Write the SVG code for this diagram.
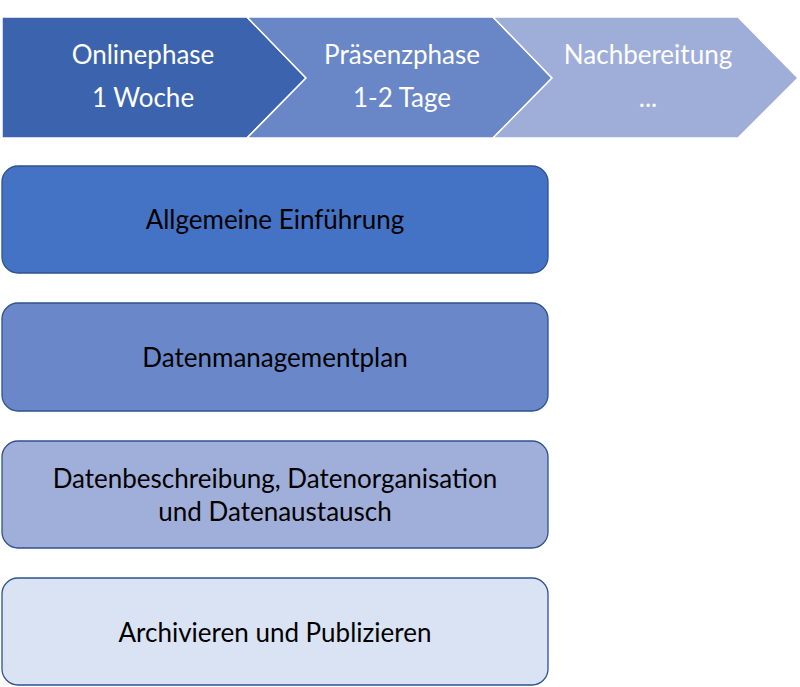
<svg xmlns="http://www.w3.org/2000/svg" width="800" height="687" viewBox="0 0 800 687">
<style>
.ch{stroke:#ffffff;stroke-width:1.5}
.ct{font-family:Lato,"Open Sans",sans-serif;font-size:26px;fill:#ffffff;text-anchor:middle}
.bx{stroke:#2F528F;stroke-width:1.3}
.bt{font-family:Lato,"Open Sans",sans-serif;font-size:26px;fill:#000000;text-anchor:middle}
</style>
<rect width="800" height="687" fill="#ffffff"/>
<g id="chevron1">
<polygon class="ch" points="2,17 247,17 306,78 247,138 2,138" fill="#3C64AE"/>
<text class="ct" x="143" y="64">Onlinephase</text>
<text class="ct" x="143" y="107">1 Woche</text>
</g>
<g id="chevron2">
<polygon class="ch" points="247,17 493,17 552,78 493,138 247,138 306,78" fill="#6986C6"/>
<text class="ct" x="402" y="64">Präsenzphase</text>
<text class="ct" x="402" y="107">1-2 Tage</text>
</g>
<g id="chevron3">
<polygon class="ch" points="493,17 738,17 798,78 738,138 493,138 552,78" fill="#9FAED9"/>
<text class="ct" x="648" y="64">Nachbereitung</text>
<text class="ct" x="648" y="107">...</text>
</g>
<g id="box1">
<rect class="bx" x="2" y="166" width="546" height="107" rx="16" fill="#4472C4"/>
<text class="bt" x="275" y="229">Allgemeine Einführung</text>
</g>
<g id="box2">
<rect class="bx" x="2" y="303" width="546" height="108" rx="16" fill="#6A88C9"/>
<text class="bt" x="275" y="367">Datenmanagementplan</text>
</g>
<g id="box3">
<rect class="bx" x="2" y="441" width="546" height="107" rx="16" fill="#A0AFDA"/>
<text class="bt" x="275" y="488">Datenbeschreibung, Datenorganisation</text>
<text class="bt" x="275" y="521">und Datenaustausch</text>
</g>
<g id="box4">
<rect class="bx" x="2" y="578" width="546" height="107" rx="16" fill="#DAE3F3"/>
<text class="bt" x="275" y="642">Archivieren und Publizieren</text>
</g>
<g id="connectors"/>
</svg>
